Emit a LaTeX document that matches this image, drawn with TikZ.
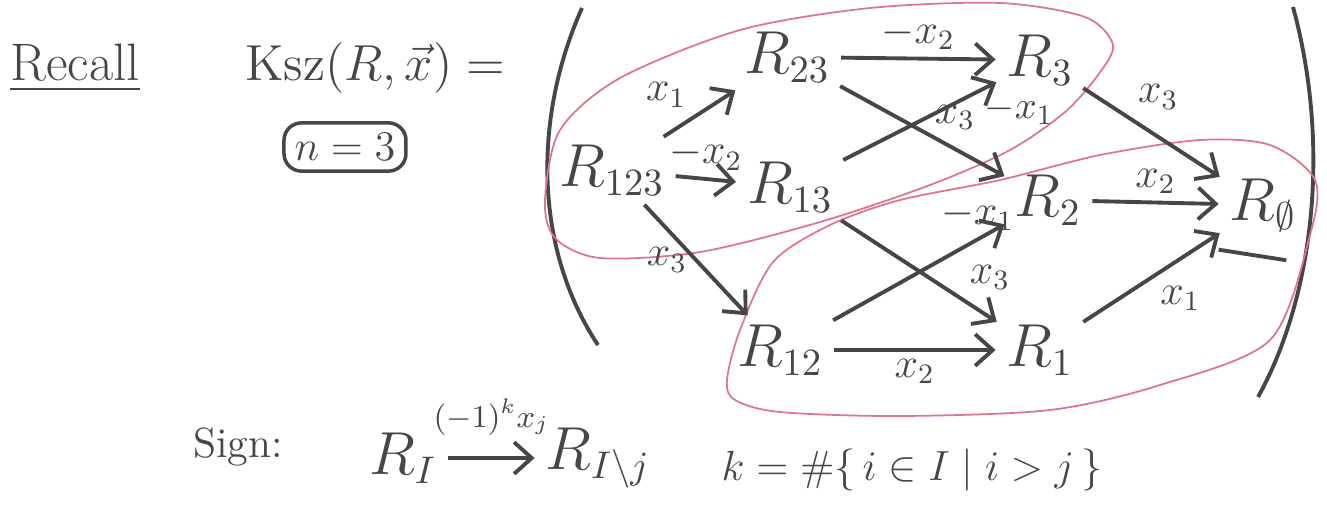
\documentclass[tikz,border=0pt]{standalone}
\usepackage{amsmath,amssymb}
\usetikzlibrary{arrows.meta,positioning}
\definecolor{kink}{HTML}{464646}
\definecolor{kred}{HTML}{DE7589}
\tikzset{
  obj/.style={text=kink,font=\fontsize{16}{19}\selectfont,inner sep=1pt},
  big/.style={text=kink,font=\fontsize{15}{18}\selectfont,inner sep=2pt},
  lbl/.style={text=kink,font=\fontsize{12}{14}\selectfont,inner sep=2pt},
  note/.style={text=kink,font=\fontsize{12}{14}\selectfont,inner sep=2pt},
  nbox/.style={draw=kink,rounded corners=5pt,line width=1pt,text=kink,font=\fontsize{13}{15}\selectfont,inner sep=3pt},
  arr/.style={-{Straight Barb[length=5pt,width=9pt]},line width=1.1pt,draw=kink,shorten <=2pt,shorten >=2pt},
  paren/.style={draw=kink,line width=1.1pt},
  ring/.style={draw=kred,line width=0.5pt},
}
\begin{document}
\begin{tikzpicture}[x=0.01cm,y=-0.01cm]
\useasboundingbox (0,0) rectangle (1327,529);
% heading
\node[big] (rec) at (75,68) {\underline{Recall}};
\node[big] (ksz) at (375,68) {$\mathrm{Ksz}(R,\vec{x}) =$};
\node[nbox, below=2mm of ksz, xshift=-3mm] (n) {$n=3$};
% brackets round the cube
\draw[paren] (582,8) .. controls (532,120) and (535,250) .. (598,345);
\draw[paren] (1293,7) .. controls (1332,150) and (1312,300) .. (1258,397);
% red rings
\draw[ring] plot[smooth cycle] coordinates {(545,200) (560,130) (620,78) (740,30) (870,8) (1000,3) (1085,17) (1113,45) (1098,75) (1065,112) (1010,150) (930,185) (820,222) (700,252) (600,258) (555,238)};
\draw[ring] plot[smooth cycle] coordinates {(727,380) (740,330) (773,262) (830,225) (900,200) (1000,180) (1100,155) (1200,140) (1270,145) (1315,180) (1310,235) (1270,340) (1160,385) (1050,410) (900,416) (780,412) (735,400)};
% cube
\node[obj] (r123) at (612,170) {$R_{123}$};
\node[obj] (r23) at (787,57) {$R_{23}$};
\node[obj] (r13) at (790,187) {$R_{13}$};
\node[obj] (r12) at (780,350) {$R_{12}$};
\node[obj] (r3) at (1040,60) {$R_3$};
\node[obj] (r2) at (1048,200) {$R_2$};
\node[obj] (r1) at (1040,350) {$R_1$};
\node[obj] (r0) at (1263,205) {$R_\emptyset$};
\draw[paren] ([yshift=-4pt,xshift=-2pt]r0.south west) -- ([yshift=-7pt,xshift=-4pt]r0.south east);
\draw[arr] (r123) -- node[lbl,above left,pos=0.45] {$x_1$} (r23);
\draw[arr] (r123) -- node[lbl,above] {$-x_2$} (r13);
\draw[arr] (r123) -- node[lbl,left] {$x_3$} (r12);
\draw[arr] (r23) -- node[lbl,above] {$-x_2$} (r3);
\draw[arr] (r23) -- node[lbl,above right,pos=0.54,inner sep=1pt] {$x_3$} (r2);
\draw[arr] (r13) -- node[lbl,anchor=north west,pos=0.86,inner sep=1pt,font=\fontsize{11}{13}\selectfont] {$-x_1$} (r3);
\draw[arr] (r13) -- node[lbl,above right,pos=0.75] {$x_3$} (r1);
\draw[arr] (r12) -- node[lbl,above,pos=0.82] {$-x_1$} (r2);
\draw[arr] (r12) -- node[lbl,below] {$x_2$} (r1);
\draw[arr] (r3) -- node[lbl,above right,pos=0.35] {$x_3$} (r0);
\draw[arr] (r2) -- node[lbl,above] {$x_2$} (r0);
\draw[arr] (r1) -- node[lbl,below right] {$x_1$} (r0);
% sign rule
\node[note] (sign) at (238,447) {Sign:};
\node[obj] (ri) at (403,458) {$R_I$};
\node[obj] (rij) at (598,458) {$R_{I\setminus j}$};
\draw[arr] (ri) -- node[note,above,yshift=4pt,font=\fontsize{9}{11}\selectfont] {$(-1)^k x_j$} (rij);
\node[note] (kdef) at (912,470) {$k=\#\{\,i\in I\mid i>j\,\}$};
\end{tikzpicture}
\end{document}
